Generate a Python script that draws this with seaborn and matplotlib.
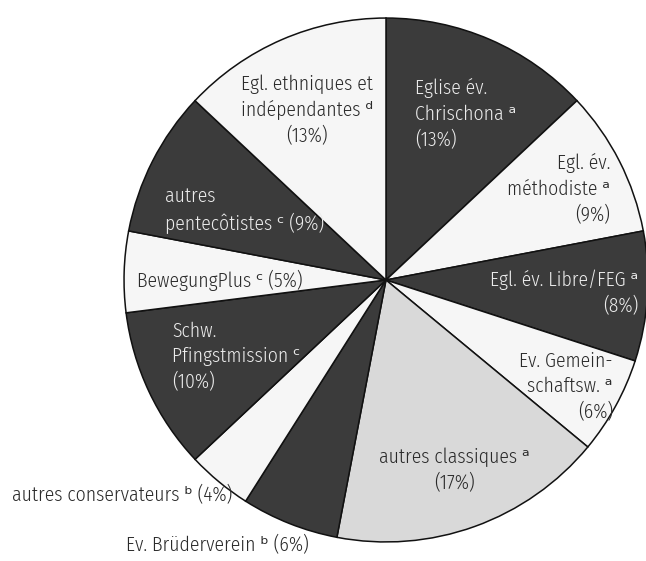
import seaborn as sns
import matplotlib.pyplot as plt
from matplotlib import font_manager as fm

# values, clockwise from 12 o'clock
labels = [
    "Eglise év.\nChrischona ᵃ\n(13%)",
    "Egl. év.\nméthodiste ᵃ\n(9%)",
    "Egl. év. Libre/FEG ᵃ\n(8%)",
    "Ev. Gemein-\nschaftsw. ᵃ\n(6%)",
    "autres classiques ᵃ\n(17%)",
    "Ev. Brüderverein ᵇ (6%)",
    "autres conservateurs ᵇ (4%)",
    "Schw.\nPfingstmission ᶜ\n(10%)",
    "BewegungPlus ᶜ (5%)",
    "autres\npentecôtistes ᶜ (9%)",
    "Egl. ethniques et\nindépendantes ᵈ\n(13%)",
]
shares = [13, 9, 8, 6, 17, 6, 4, 10, 5, 9, 13]
shade = ["dark", "white", "dark", "white", "light", "dark", "white", "dark", "white", "dark", "white"]

# label placement (axes data units, pie radius = 1)
label_pos = [
    (0.111, 0.634, "left"),
    (0.855, 0.347, "right"),
    (0.962, -0.050, "right"),
    (0.866, -0.408, "right"),
    (0.260, -0.725, "center"),
    (-0.992, -1.011, "left"),
    (-1.427, -0.821, "left"),
    (-0.817, -0.294, "left"),
    (-0.950, 0.0, "left"),
    (-0.844, 0.267, "left"),
    (-0.302, 0.649, "center"),
]
outside = [False, False, False, False, False, True, True, False, False, False, False]

sns.set_style("white")

# pick a condensed sans close to the Frutiger Condensed of the original
have = {f.name for f in fm.fontManager.ttflist}
cands = ["Fira Sans Condensed", "Roboto Condensed", "Open Sans Condensed", "PT Sans Narrow",
         "Barlow Semi Condensed", "Sofia Sans Semi Condensed", "Liberation Sans Narrow",
         "Saira SemiCondensed", "Liberation Sans"]
font = next(c for c in cands if c in have)
plt.rcParams['font.family'] = [font, 'DejaVu Sans']

pal = {"dark": "#3b3b3b", "white": "#f6f6f6", "light": "#d9d9d9"}
colors = [pal[s] for s in shade]

fig = plt.figure(figsize=(6.46, 5.61), dpi=100)
ax = fig.add_axes([0.192, 0.0339, 0.811, 0.934])
ax.pie(shares, colors=colors, startangle=90, counterclock=False, radius=1,
       wedgeprops=dict(edgecolor="#111111", linewidth=1.1))
ax.set_xlim(-1, 1)
ax.set_ylim(-1, 1)
ax.set_aspect("equal")
ax.axis("off")

# size the font so "Egl. ethniques et" is ~130 px wide, as in the original
r = fig.canvas.get_renderer()
probe = fig.text(0, 0, "Egl. ethniques et", fontsize=15, fontweight=300)
w = probe.get_window_extent(r).width
probe.remove()
fs = min(17, 15 * 132 / w)

for lab, (x, y, ha), s, out in zip(labels, label_pos, shade, outside):
    col = "#ececec" if (s == "dark" and not out) else "#2a2a2a"
    ax.text(x, y, lab, ha=ha, va="center", multialignment=ha, fontsize=fs,
            fontweight=300, color=col, linespacing=1.38, clip_on=False)

fig.savefig("out.png", dpi=100)
